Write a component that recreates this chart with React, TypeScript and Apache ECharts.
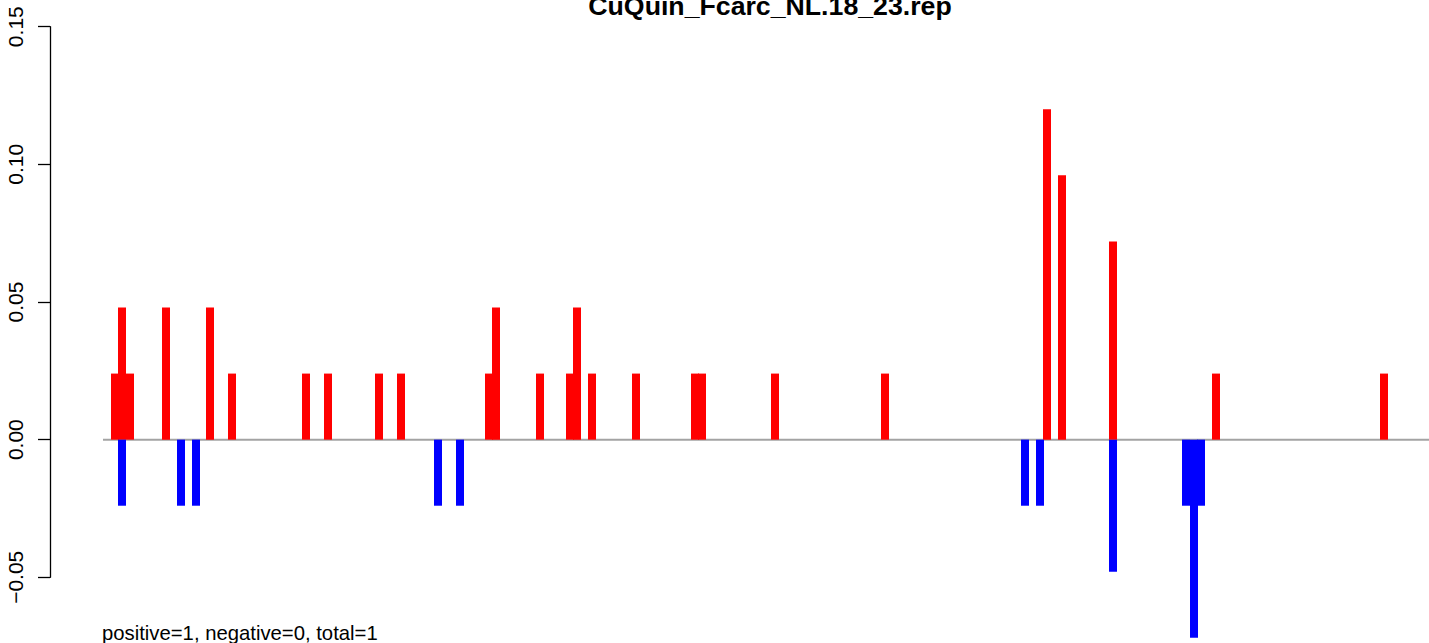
import React, { useEffect, useRef } from "react";
import * as echarts from "echarts";

const titleText = "CuQuin_Fcarc_NL.18_23.rep";
const footerText = "positive=1, negative=0, total=1";

const yMin = -0.05;
const yMax = 0.15;
const yStep = 0.05;

const xMax = 1379;
const baselineRange = [53, 1379];

const positivePositions = [
  65, 72, 80, 116, 160, 182, 256, 278, 329, 351, 439, 446, 490, 520, 527, 542,
  586, 645, 652, 725, 835, 997, 1012, 1063, 1166, 1334,
];
const positiveValues = [
  0.024, 0.048, 0.024, 0.048, 0.048, 0.024, 0.024, 0.024, 0.024, 0.024, 0.024,
  0.048, 0.024, 0.024, 0.048, 0.024, 0.024, 0.024, 0.024, 0.024, 0.024, 0.12,
  0.096, 0.072, 0.024, 0.024,
];

const negativePositions = [72, 131, 146, 388, 410, 975, 990, 1063, 1136, 1144, 1151];
const negativeValues = [
  -0.024, -0.024, -0.024, -0.024, -0.024, -0.024, -0.024, -0.048, -0.024, -0.072,
  -0.024,
];

const FONT = "'Liberation Sans', Arial, Helvetica, sans-serif";

export default function App() {
  const ref = useRef<HTMLDivElement>(null);

  useEffect(() => {
    if (!ref.current) return;
    const chart = echarts.init(ref.current, undefined, { renderer: "svg" });

    const fmt = (v: number) => {
      const r = Math.round(v * 100) / 100;
      return (r < 0 ? "\u2212" : "") + Math.abs(r).toFixed(2);
    };

    chart.setOption({
      animation: false,
      backgroundColor: "#ffffff",
      grid: { left: 50, right: 0, top: 26.7, bottom: 65.7, containLabel: false },
      xAxis: {
        type: "value",
        min: 0,
        max: xMax,
        show: false,
        splitLine: { show: false },
      },
      yAxis: {
        type: "value",
        min: yMin,
        max: yMax,
        interval: yStep,
        axisLine: { show: true, onZero: false, lineStyle: { color: "#000", width: 1.3 } },
        axisTick: { show: true, length: 12, inside: false, lineStyle: { color: "#000", width: 1.3 } },
        axisLabel: {
          rotate: 90,
          margin: 24,
          fontSize: 21,
          fontFamily: FONT,
          color: "#000",
          formatter: fmt,
        },
        splitLine: { show: false },
      },
      series: [
        {
          type: "line",
          data: baselineRange.map((x) => [x, 0]),
          symbol: "none",
          lineStyle: { color: "#a3a3a3", width: 2 },
          z: 1,
          silent: true,
        },
        {
          type: "bar",
          data: positivePositions.map((x, i) => [x, positiveValues[i]]),
          barWidth: 8,
          barGap: "-100%",
          clip: false,
          itemStyle: { color: "#ff0000" },
          z: 2,
        },
        {
          type: "bar",
          data: negativePositions.map((x, i) => [x, negativeValues[i]]),
          barWidth: 8,
          barGap: "-100%",
          clip: false,
          itemStyle: { color: "#0000ff" },
          z: 3,
        },
      ],
      graphic: [
        {
          type: "text",
          x: 770,
          y: 6,
          style: {
            text: titleText,
            fill: "#000",
            font: `bold 26.7px ${FONT}`,
            fontSize: 26.7,
            fontWeight: "bold",
            fontFamily: FONT,
            align: "center",
            verticalAlign: "middle",
            textAlign: "center",
            textVerticalAlign: "middle",
          },
        },
        {
          type: "text",
          x: 102,
          y: 633,
          style: {
            text: footerText,
            fill: "#000",
            font: `20.3px ${FONT}`,
            fontSize: 20.3,
            fontFamily: FONT,
            align: "left",
            verticalAlign: "middle",
            textAlign: "left",
            textVerticalAlign: "middle",
          },
        },
      ],
    });

    return () => chart.dispose();
  }, []);

  return (
    <div
      ref={ref}
      style={{ position: "fixed", left: 0, top: 0, width: 1429, height: 643, background: "#fff" }}
    />
  );
}
